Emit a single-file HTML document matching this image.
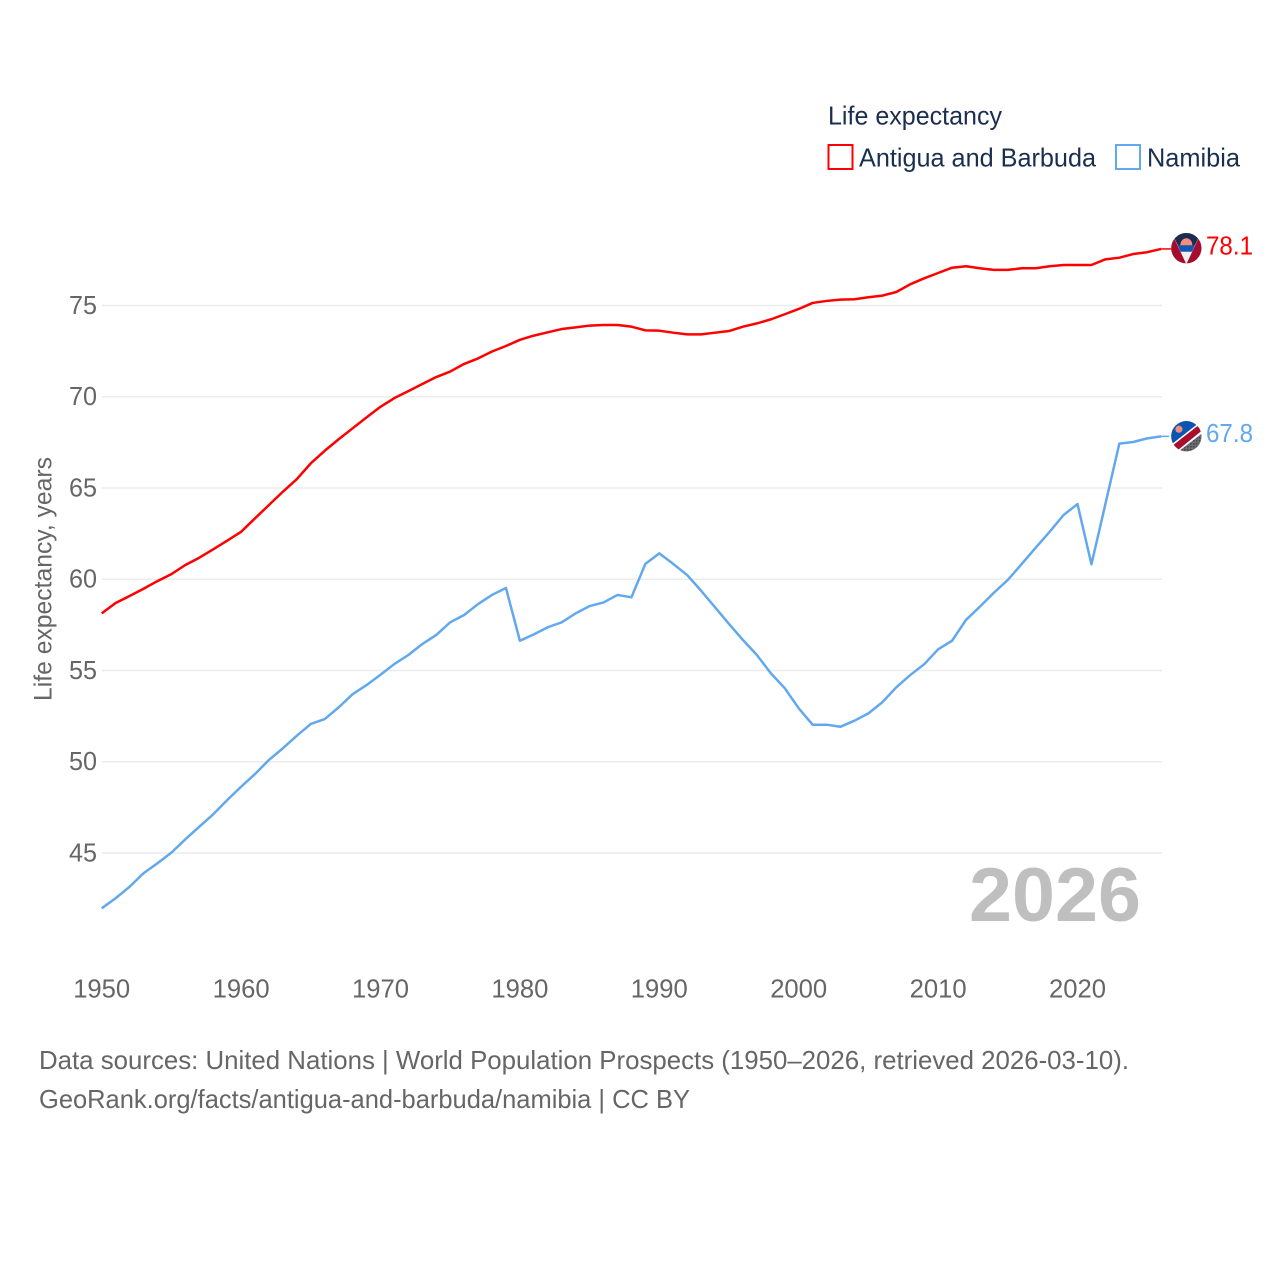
<!DOCTYPE html>
<html lang="en">
<head>
<meta charset="utf-8">
<title>Life expectancy: Antigua and Barbuda vs Namibia</title>
<style>
html,body{margin:0;padding:0;background:#fff;}
svg{display:block;font-family:"Liberation Sans",sans-serif;}
</style>
</head>
<body>
<svg id="chart" xmlns="http://www.w3.org/2000/svg" width="1280" height="1280" viewBox="0 0 1280 1280">
  <defs>
    <clipPath id="flag-clip"><circle cx="0" cy="0" r="15.2"></circle></clipPath>
    <pattern id="dots" width="3" height="3" patternUnits="userSpaceOnUse"><rect width="3" height="3" fill="#6d6f75"></rect><circle cx="1.5" cy="1.5" r="0.8" fill="#2e3138"></circle></pattern>
  </defs>
  <rect width="1280" height="1280" fill="#fff"></rect>

  <g id="grid"></g>
  <g id="y-ticks"></g>
  <g id="x-ticks"></g>

  <text transform="translate(51.5,701) rotate(-90)" font-size="25" fill="#666" textLength="244" lengthAdjust="spacingAndGlyphs">Life expectancy, years</text>

  <text x="969" y="921" font-size="76" font-weight="700" fill="#bfbfbf" textLength="172" lengthAdjust="spacingAndGlyphs">2026</text>

  <g id="series"></g>

  <g>
    <text x="828" y="124.5" font-size="26" fill="#1a2e4f" textLength="174" lengthAdjust="spacingAndGlyphs">Life expectancy</text>
    <rect x="828.5" y="145" width="24" height="24" fill="none" stroke="#ff0000" stroke-width="2"></rect>
    <text x="859" y="166.5" font-size="26" fill="#1a2e4f" textLength="237" lengthAdjust="spacingAndGlyphs">Antigua and Barbuda</text>
    <rect x="1116" y="145" width="24" height="24" fill="none" stroke="#62a8ee" stroke-width="2"></rect>
    <text x="1147" y="166.5" font-size="26" fill="#1a2e4f" textLength="93" lengthAdjust="spacingAndGlyphs">Namibia</text>
  </g>

  <g id="flag-antigua">
    <g clip-path="url(#flag-clip)">
      <rect x="-16" y="-16" width="32" height="32" fill="#a50d2f"></rect>
      <polygon points="-15,-16 15,-16 0,16" fill="#f0f0f0"></polygon>
      <polygon points="-15,-16 15,-16 8,-2 -8,-2" fill="#1b2c50"></polygon>
      <polygon points="-8.6,-3 8.6,-3 5.7,3.5 -5.7,3.5" fill="#1457b0"></polygon>
      <path d="M-6,-3 A6,7 0 0 1 6,-3 Z" fill="#f08f80"></path>
    </g>
  </g>
  <g id="flag-namibia">
    <g clip-path="url(#flag-clip)">
      <rect x="-16" y="-16" width="32" height="32" fill="#fff"></rect>
      <polygon points="-16,-16 16,-16 -16,9" fill="#0a55b0"></polygon>
      <polygon points="16,-3 16,16 -9,16" fill="url(#dots)"></polygon>
      <polygon points="16,-14 16,-6 -11,16 -16,16 -16,11" fill="#a70f2f"></polygon>
      <circle cx="-7.4" cy="-7" r="3.6" fill="#f08f80"></circle>
    </g>
  </g>
  <g id="end-labels"></g>

  <g>
    <text x="39" y="1069" font-size="26" fill="#666" textLength="1090" lengthAdjust="spacingAndGlyphs">Data sources: United Nations | World Population Prospects (1950–2026, retrieved 2026-03-10).</text>
    <text x="39" y="1108" font-size="26" fill="#666" textLength="651" lengthAdjust="spacingAndGlyphs">GeoRank.org/facts/antigua-and-barbuda/namibia | CC BY</text>
  </g>
</svg>
<script>
const firstYear = 1950;
const yTickValues = [45, 50, 55, 60, 65, 70, 75];
const xTickValues = [1950, 1960, 1970, 1980, 1990, 2000, 2010, 2020];
const antiguaValues = [
  58.13,58.70,59.08,59.48,59.90,60.28,60.78,61.18,61.64,62.11,
  62.60,63.34,64.07,64.80,65.49,66.35,67.04,67.67,68.27,68.87,
  69.45,69.93,70.31,70.70,71.08,71.38,71.80,72.10,72.48,72.78,
  73.12,73.35,73.53,73.71,73.80,73.90,73.93,73.93,73.84,73.64,
  73.62,73.51,73.42,73.42,73.51,73.60,73.84,74.02,74.24,74.52,
  74.81,75.14,75.25,75.32,75.34,75.45,75.54,75.74,76.16,76.49,
  76.78,77.07,77.15,77.04,76.95,76.95,77.04,77.04,77.15,77.22,
  77.22,77.22,77.53,77.62,77.82,77.92,78.10
];
const namibiaValues = [
  41.97,42.52,43.15,43.89,44.44,45.02,45.75,46.44,47.12,47.90,
  48.63,49.33,50.10,50.74,51.43,52.07,52.34,52.98,53.70,54.20,
  54.77,55.36,55.85,56.45,56.95,57.64,58.04,58.64,59.14,59.52,
  56.63,56.98,57.37,57.64,58.13,58.53,58.73,59.14,59.01,60.84,
  61.42,60.84,60.23,59.37,58.46,57.55,56.67,55.85,54.85,54.03,
  52.93,52.03,52.03,51.92,52.25,52.65,53.26,54.08,54.75,55.34,
  56.16,56.63,57.77,58.50,59.26,59.96,60.84,61.73,62.60,63.52,
  64.12,60.82,64.12,67.43,67.52,67.72,67.83
];
const antiguaLabel = "78.1";
const namibiaLabel = "67.8";

const NS = "http://www.w3.org/2000/svg";
function xScale(year) { return 101.7 + (year - 1950) * 13.94; }
function yScale(value) { return 305.5 + (75 - value) * 18.25; }
function make(tag, parent) {
  const el = document.createElementNS(NS, tag);
  parent.appendChild(el);
  return el;
}

const gridGroup = document.getElementById("grid");
const yTickGroup = document.getElementById("y-ticks");
yTickValues.forEach(function (v) {
  const line = make("line", gridGroup);
  
  
  line.setAttribute("x1", 102);
  line.setAttribute("x2", 1162);
  line.setAttribute("y1", yScale(v));
  line.setAttribute("y2", yScale(v));
  line.setAttribute("stroke", "#ececec");
  line.setAttribute("stroke-width", "1.5");

  const label = make("text", yTickGroup);
  
  
  label.setAttribute("x", 97);
  label.setAttribute("y", yScale(v) + 8.3);
  label.setAttribute("text-anchor", "end");
  label.setAttribute("font-size", "26");
  label.setAttribute("fill", "#666");
  label.setAttribute("textLength", "28");
  label.setAttribute("lengthAdjust", "spacingAndGlyphs");
  label.textContent = String(v);
});

const xTickGroup = document.getElementById("x-ticks");
xTickValues.forEach(function (year) {
  const label = make("text", xTickGroup);
  
  
  label.setAttribute("x", xScale(year));
  label.setAttribute("y", 997.5);
  label.setAttribute("text-anchor", "middle");
  label.setAttribute("font-size", "26");
  label.setAttribute("fill", "#666");
  label.setAttribute("textLength", "57");
  label.setAttribute("lengthAdjust", "spacingAndGlyphs");
  label.textContent = String(year);
});

function linePath(values) {
  const pts = values.map(function (v, i) {
    return xScale(firstYear + i).toFixed(2) + "," + yScale(v).toFixed(2);
  });
  return "M" + pts.join("L");
}

const seriesGroup = document.getElementById("series");

const antiguaLine = make("path", seriesGroup);


antiguaLine.setAttribute("d", linePath(antiguaValues));
antiguaLine.setAttribute("fill", "none");
antiguaLine.setAttribute("stroke", "#ff0000");
antiguaLine.setAttribute("stroke-width", "2.5");
antiguaLine.setAttribute("stroke-linejoin", "round");

const namibiaLine = make("path", seriesGroup);


namibiaLine.setAttribute("d", linePath(namibiaValues));
namibiaLine.setAttribute("fill", "none");
namibiaLine.setAttribute("stroke", "#62a8ee");
namibiaLine.setAttribute("stroke-width", "2.5");
namibiaLine.setAttribute("stroke-linejoin", "round");

const lastYear = firstYear + antiguaValues.length - 1;
const antiguaEndY = yScale(antiguaValues[antiguaValues.length - 1]);
const namibiaEndY = yScale(namibiaValues[namibiaValues.length - 1]);

const antiguaConnector = make("line", seriesGroup);


antiguaConnector.setAttribute("x1", xScale(lastYear));
antiguaConnector.setAttribute("x2", xScale(lastYear) + 10);
antiguaConnector.setAttribute("y1", antiguaEndY);
antiguaConnector.setAttribute("y2", antiguaEndY);
antiguaConnector.setAttribute("stroke", "#ff0000");
antiguaConnector.setAttribute("stroke-width", "1.5");

const namibiaConnector = make("line", seriesGroup);


namibiaConnector.setAttribute("x1", xScale(lastYear));
namibiaConnector.setAttribute("x2", xScale(lastYear) + 8);
namibiaConnector.setAttribute("y1", namibiaEndY);
namibiaConnector.setAttribute("y2", namibiaEndY);
namibiaConnector.setAttribute("stroke", "#62a8ee");
namibiaConnector.setAttribute("stroke-width", "1.5");

document.getElementById("flag-antigua").setAttribute("transform", "translate(" + (xScale(lastYear) + 25.2) + "," + (antiguaEndY - 0.7) + ")");
document.getElementById("flag-namibia").setAttribute("transform", "translate(" + (xScale(lastYear) + 25.2) + "," + (namibiaEndY - 0.1) + ")");

const endLabels = document.getElementById("end-labels");

const antiguaEnd = make("text", endLabels);


antiguaEnd.setAttribute("x", 1206);
antiguaEnd.setAttribute("y", antiguaEndY + 5.5);
antiguaEnd.setAttribute("font-size", "26");
antiguaEnd.setAttribute("fill", "#ff0000");
antiguaEnd.setAttribute("textLength", "47");
antiguaEnd.setAttribute("lengthAdjust", "spacingAndGlyphs");
antiguaEnd.textContent = antiguaLabel;

const namibiaEnd = make("text", endLabels);


namibiaEnd.setAttribute("x", 1206);
namibiaEnd.setAttribute("y", namibiaEndY + 5.5);
namibiaEnd.setAttribute("font-size", "26");
namibiaEnd.setAttribute("fill", "#62a8ee");
namibiaEnd.setAttribute("textLength", "47");
namibiaEnd.setAttribute("lengthAdjust", "spacingAndGlyphs");
namibiaEnd.textContent = namibiaLabel;
</script>
</body>
</html>
